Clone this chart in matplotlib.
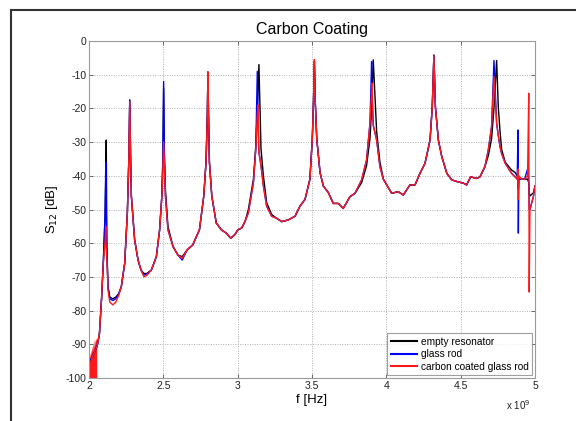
import matplotlib
matplotlib.use("Agg")
import matplotlib.pyplot as plt
from matplotlib.lines import Line2D

plt.rcParams['font.family'] = ['Liberation Sans', 'DejaVu Sans']
plt.rcParams['axes.unicode_minus'] = False

# Measured transmission S12 (dB) versus frequency (GHz)
freq_ghz = [2.000, 2.020, 2.040, 2.055, 2.070, 2.085, 2.096, 2.108, 2.113, 2.116,
            2.120, 2.128, 2.140, 2.160, 2.180, 2.200, 2.217, 2.240, 2.258, 2.268,
            2.274, 2.280, 2.285, 2.307, 2.330, 2.350, 2.370, 2.390, 2.419, 2.453,
            2.475, 2.490, 2.497, 2.502, 2.507, 2.514, 2.531, 2.565, 2.598, 2.627,
            2.660, 2.698, 2.743, 2.772, 2.787, 2.796, 2.800, 2.804, 2.810, 2.826,
            2.856, 2.890, 2.923, 2.953, 2.980, 3.002, 3.027, 3.050, 3.072, 3.106,
            3.122, 3.132, 3.137, 3.143, 3.157, 3.173, 3.195, 3.229, 3.262, 3.296,
            3.340, 3.386, 3.419, 3.453, 3.486, 3.502, 3.510, 3.516, 3.522, 3.532,
            3.554, 3.576, 3.610, 3.643, 3.677, 3.710, 3.755, 3.789, 3.834, 3.867,
            3.890, 3.901, 3.903, 3.912, 3.935, 3.957, 3.980, 4.036, 4.080, 4.114,
            4.159, 4.193, 4.226, 4.260, 4.294, 4.309, 4.320, 4.330, 4.350, 4.373,
            4.407, 4.440, 4.474, 4.519, 4.540, 4.567, 4.607, 4.630, 4.663, 4.686,
            4.708, 4.724, 4.742, 4.753, 4.765, 4.776, 4.800, 4.843, 4.866, 4.880,
            4.886, 4.888, 4.891, 4.910, 4.930, 4.950, 4.958, 4.961, 4.966, 4.990,
            5.000]

empty_db = [-96, -94, -92, -90.5, -87, -76, -66, -52, -40, -29.4,
            -62, -73, -76, -76.5, -76, -75, -73, -66, -51, -35,
            -17.5, -35, -46, -59, -65, -68, -69, -69, -68, -64,
            -56, -46, -35, -14, -33, -44, -55, -61, -63.5, -64,
            -62, -60.5, -56, -46, -36, -22, -9.2, -22, -36, -46,
            -54, -56, -57, -58.5, -57.5, -56, -55.5, -53.5, -50, -41,
            -31, -20, -15, -7, -32, -40, -48, -51.5, -52.6, -53.6,
            -53.1, -52, -49, -47, -41, -29, -18, -5.8, -18, -29,
            -39, -43, -45, -48.2, -48.2, -49.7, -46.2, -45.2, -42, -37,
            -29, -20, -17, -5.6, -27, -36, -41, -45.2, -44.7, -45.7,
            -42.7, -42.7, -39.3, -36.3, -29.4, -19.5, -4.2, -19.5, -29.4, -34.3,
            -39.3, -41.2, -41.7, -42.2, -42.7, -40.3, -40.8, -40.3, -37.3, -34,
            -29, -20, -5.8, -19.5, -27, -32.3, -36, -38.3, -39, -40,
            -40, -44, -41, -41, -41, -41, -42, -45, -46, -45,
            -43]

glass_db = [-95, -94, -92, -90.5, -87, -76, -66, -52, -36, -50,
            -62, -73, -76.5, -77, -76.5, -75, -73, -66, -51, -35,
            -17.5, -35, -46, -59, -65, -68, -69.5, -69, -68, -64,
            -56, -46, -35, -12, -35, -46, -56, -61, -63.5, -65,
            -62, -60.5, -56, -46, -36, -22, -9.2, -22, -36, -46,
            -54, -56, -57, -58.5, -57.5, -56, -55.5, -53.5, -51, -42,
            -32, -9, -25, -33, -37, -43, -49, -52, -52.6, -53.6,
            -53.1, -52, -49, -47, -41, -29, -18, -5.8, -18, -29,
            -39, -43, -45, -48.2, -48.2, -49.7, -46.2, -45.2, -41.2, -35.3,
            -24.4, -6.1, -15, -25, -29.4, -37.3, -41, -45.2, -44.7, -45.7,
            -42.7, -42.7, -39.3, -36.3, -29.4, -19.5, -4.2, -19.5, -29.4, -34.3,
            -39.3, -41.2, -41.7, -42.2, -42.7, -40.3, -40.8, -40.3, -37.3, -32.3,
            -25.4, -5.8, -24.4, -28, -31.4, -33.5, -36.3, -39.3, -40.3, -41,
            -26.4, -57, -41, -41, -41, -38, -42, -50, -50, -46,
            -43]

coated_db = [-97, -94, -92, -90.5, -87, -76, -66, -60, -55, -62,
             -64, -74, -77.5, -78.3, -77.5, -75.5, -73, -66, -51, -35,
             -18, -35, -46, -59, -65, -68, -70, -69.5, -68, -64,
             -56, -46, -38, -30, -37, -46, -56, -61, -63.5, -64.5,
             -62, -60.5, -56, -46, -36, -22, -9.2, -22, -36, -46,
             -54, -56, -57, -58.5, -57.5, -56, -55.5, -53.5, -51, -42,
             -32, -22, -19, -33, -37, -43, -49, -52, -52.6, -53.6,
             -53.1, -52, -49, -47, -41, -29, -18, -5.5, -18, -29,
             -39, -43, -45, -48.2, -48.2, -49.7, -46.2, -45.2, -41.2, -35.3,
             -24.4, -15, -12.5, -25, -29.4, -37.3, -41, -45.2, -44.7, -45.7,
             -42.7, -42.7, -39.3, -36.3, -29.4, -19.5, -4.2, -19.5, -29.4, -34.3,
             -39.3, -41.2, -41.7, -42.2, -42.7, -40.3, -40.8, -40.3, -37.3, -32.3,
             -25.4, -10.6, -24.4, -28, -31.4, -33.5, -36.3, -39.3, -40.3, -41,
             -38, -47, -40, -41, -41, -40, -15.5, -74.5, -50, -46,
             -43]

# Noisy low-level band of the coated rod trace near 2 GHz
noise_f = [2.000, 2.004, 2.008, 2.012, 2.016, 2.020, 2.024, 2.028, 2.032,
           2.036, 2.040, 2.044, 2.048, 2.052]
noise_top = [-95, -92.5, -94, -91.5, -93, -90.5, -92, -89.5, -91, -88.5,
             -90, -88, -89, -88]

labels = ["empty resonator", "glass rod", "carbon coated glass rod"]
colors = ["black", "#0000ff", "#ff1a1a"]

x_ticks = [2.0, 2.5, 3.0, 3.5, 4.0, 4.5, 5.0]
x_tick_labels = ["2", "2.5", "3", "3.5", "4", "4.5", "5"]
y_ticks = list(range(-100, 1, 10))

fig = plt.figure(figsize=(5.76, 4.21), dpi=100)
ax = fig.add_axes([89 / 576, 1 - 378 / 421, (535 - 89) / 576, (378 - 41) / 421])

for ydata, lab, col in zip([empty_db, glass_db, coated_db], labels, colors):
    ax.plot(freq_ghz, ydata, color=col, lw=1.0, label=lab)
ax.fill_between(noise_f, -100, noise_top, color=colors[2], lw=0)

ax.set_xlim(2.0, 5.0)
ax.set_ylim(-100, 0)
ax.set_xticks(x_ticks)
ax.set_xticklabels(x_tick_labels)
ax.set_yticks(y_ticks)
ax.tick_params(direction='in', length=3, width=0.6, labelsize=7.5,
               colors='#555555', labelcolor='#222222', top=True, right=True, pad=2)
ax.grid(True, linestyle=(0, (1, 1.5)), color='#b0b0b0', lw=0.7)
for s in ax.spines.values():
    s.set_color('#9a9a9a')
    s.set_linewidth(0.8)

ax.set_title("Carbon Coating", fontsize=11.5, pad=5)
ax.set_xlabel("f [Hz]", fontsize=9.5, labelpad=2)
ax.set_ylabel("S$_{12}$ [dB]", fontsize=9.5, labelpad=4)
ax.text(0.99, -0.06, r"x 10$^{9}$", transform=ax.transAxes, fontsize=7,
        ha='right', va='top', color='#222222')

leg = ax.legend(loc='lower right', fontsize=7.3, frameon=True, fancybox=False,
                handlelength=2.6, handletextpad=0.4, borderpad=0.35,
                labelspacing=0.25, borderaxespad=0.25)
leg.get_frame().set_edgecolor('#888888')
leg.get_frame().set_linewidth(0.8)
for h in leg.get_lines():
    h.set_linewidth(1.5)

# Frame around the figure
fig.add_artist(Line2D([11 / 576, 11 / 576], [0, 1 - 10 / 421], color='#333333', lw=1.5))
fig.add_artist(Line2D([11 / 576, 1], [1 - 10 / 421, 1 - 10 / 421], color='#333333', lw=1.5))

fig.savefig("out.png", dpi=100)
